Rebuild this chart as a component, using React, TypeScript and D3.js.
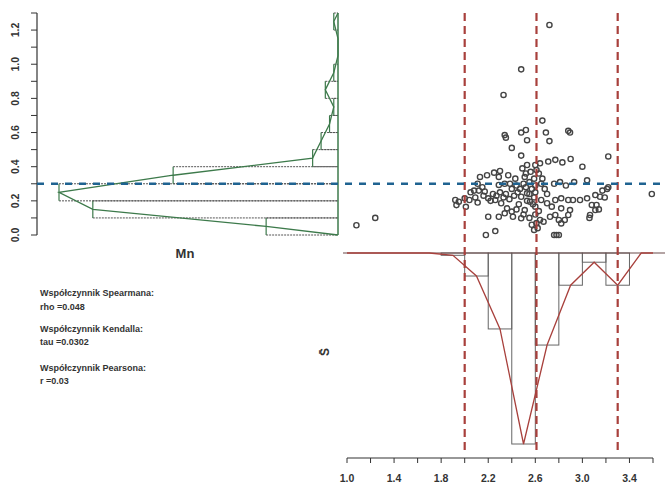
import React from 'react';
import * as d3 from 'd3';

// ---- data ----
const mnTicks = [0.0, 0.2, 0.4, 0.6, 0.8, 1.0, 1.2];
const mnMinorTicks = [0.0, 0.1, 0.2, 0.3, 0.4, 0.5, 0.6, 0.7, 0.8, 0.9, 1.0, 1.1, 1.2, 1.3];
const sTickLabels = [1.0, 1.4, 1.8, 2.2, 2.6, 3.0, 3.4];
const sMinorTicks = [1.0, 1.2, 1.4, 1.6, 1.8, 2.0, 2.2, 2.4, 2.6, 2.8, 3.0, 3.2, 3.4, 3.6];

// Mn histogram (bin width 0.1)
const mnBinStarts = [0.0, 0.1, 0.2, 0.3, 0.4, 0.5, 0.6, 0.7, 0.8, 0.9, 1.0, 1.1, 1.2];
const mnCounts = [17, 58, 66, 39, 6, 4, 2, 1, 3, 1, 0, 0, 1];

// S histogram (bin width 0.2)
const sBinStarts = [1.0, 1.2, 1.4, 1.6, 1.8, 2.0, 2.2, 2.4, 2.6, 2.8, 3.0, 3.2, 3.4];
const sCounts = [0, 0, 0, 0, 1, 10, 33, 83, 40, 14, 4, 14, 0];

// reference lines
const sVLines = [2.0, 2.61, 3.3];
const mnHLine = 0.3;

// scatter points [S, Mn]
const points: [number, number][] = [
  [2.72, 1.23], [2.48, 0.97], [2.33, 0.82], [2.66, 0.67], [2.69, 0.6], [2.72, 0.55],
  [2.88, 0.61], [2.895, 0.6], [2.52, 0.615], [2.48, 0.6], [2.53, 0.555], [2.34, 0.585],
  [2.35, 0.57], [2.4, 0.51], [2.48, 0.465], [1.08, 0.057], [1.24, 0.1], [3.59, 0.24],
  [2.64, 0.42], [2.71, 0.43], [2.77, 0.44], [2.83, 0.425], [2.9, 0.445], [3.0, 0.4], [3.22, 0.46],
  [2.49, 0.39], [2.52, 0.36], [2.51, 0.34], [2.13, 0.34], [2.19, 0.35], [2.25, 0.365],
  [2.3, 0.375], [2.29, 0.34], [2.11, 0.3], [2.15, 0.28], [2.08, 0.26], [2.12, 0.26], [2.17, 0.255],
  [2.29, 0.293], [2.34, 0.3], [2.385, 0.3], [2.44, 0.29], [2.76, 0.3], [2.81, 0.31], [2.86, 0.29],
  [2.93, 0.31], [3.04, 0.32], [3.17, 0.26], [3.21, 0.27], [3.22, 0.28],
  [1.92, 0.205], [1.95, 0.195], [1.93, 0.175], [2.0, 0.215], [2.01, 0.165], [2.04, 0.205], [2.11, 0.19],
  [2.2, 0.215], [2.26, 0.205], [2.31, 0.186], [2.36, 0.156], [2.4, 0.137],
  [2.48, 0.224], [2.53, 0.244], [2.555, 0.195], [2.6, 0.166], [2.65, 0.205], [2.7, 0.186],
  [2.74, 0.166], [2.77, 0.205], [2.82, 0.215], [2.88, 0.205], [2.92, 0.205], [2.98, 0.205],
  [3.04, 0.215], [3.11, 0.234], [3.15, 0.224], [3.19, 0.22], [3.12, 0.176], [3.14, 0.15],
  [2.82, 0.156], [2.895, 0.146], [2.88, 0.117], [2.85, 0.088], [3.08, 0.176], [3.065, 0.117],
  [3.11, 0.146], [3.06, 0.1],
  [2.2, 0.107], [2.29, 0.107], [2.34, 0.127], [2.41, 0.107], [2.48, 0.098], [2.51, 0.146],
  [2.64, 0.088], [2.67, 0.078], [2.725, 0.107], [2.77, 0.117], [2.8, 0.088], [2.82, 0.068],
  [2.18, 0.0], [2.26, 0.023], [2.76, 0.0], [2.78, 0.0], [2.8, 0.0],
  [2.5, 0.3], [2.52, 0.28], [2.55, 0.31], [2.57, 0.27], [2.59, 0.33], [2.6, 0.29], [2.6, 0.25],
  [2.61, 0.38], [2.6, 0.41], [2.59, 0.22], [2.58, 0.18], [2.6, 0.12], [2.61, 0.07], [2.59, 0.03],
  [2.55, 0.24], [2.53, 0.2], [2.47, 0.27], [2.45, 0.25], [2.42, 0.23], [2.4, 0.27], [2.38, 0.21],
  [2.35, 0.24], [2.33, 0.22], [2.3, 0.25], [2.27, 0.23], [2.24, 0.24], [2.22, 0.2], [2.46, 0.18],
  [2.44, 0.15], [2.5, 0.12], [2.55, 0.1], [2.63, 0.14], [2.65, 0.3], [2.68, 0.27], [2.7, 0.24],
  [2.63, 0.36], [2.66, 0.33], [2.56, 0.37], [2.53, 0.41], [2.57, 0.06], [2.62, 0.04],
  [2.05, 0.25], [2.09, 0.22], [2.16, 0.23], [2.43, 0.33], [2.37, 0.35],
];

const textLines = [
  'Współczynnik Spearmana:', 'rho =0.048',
  'Współczynnik Kendalla:', 'tau =0.0302',
  'Współczynnik Pearsona:', 'r =0.03',
];
const textBaselines = [296, 310, 332, 345, 371, 384];

const FONT = '"Liberation Sans", Arial, sans-serif';
const GREEN = '#3d7a4b';
const RED = '#a8403c';
const BLUE = '#1f6391';

export default function App() {
  const W = 665, H = 488;
  const y = d3.scaleLinear().domain([0, 1.3]).range([235, 13]);
  const x = d3.scaleLinear().domain([1.0, 3.6]).range([347, 653]);
  const cx = d3.scaleLinear().domain([0, 66]).range([338, 59]);
  const cy = d3.scaleLinear().domain([0, 83]).range([253, 444]);
  const axisX = 37;
  const axisY = 458;

  const mnPoly: [number, number][] = [
    [cx(0), y(0)],
    ...mnBinStarts.map((b, i) => [cx(mnCounts[i]), y(b + 0.05)] as [number, number]),
    [cx(0), y(1.3)],
  ];
  const sPoly: [number, number][] = [
    [x(1.0), cy(0)],
    ...sBinStarts.map((b, i) => [x(b + 0.1), cy(sCounts[i])] as [number, number]),
    [x(3.6), cy(0)],
  ];
  const line = d3.line();

  return (
    <svg width={W} height={H} style={{ position: 'absolute', left: 0, top: 0, background: '#fff' }}
      fontFamily={FONT}>
      <rect x={0} y={0} width={W} height={H} fill="#fff" />

      {/* left y axis */}
      <line x1={axisX} x2={axisX} y1={y(0)} y2={y(1.3)} stroke="#333" strokeWidth={1.2} />
      {mnMinorTicks.map((t) => (
        <line key={'mt' + t} x1={axisX - 6} x2={axisX} y1={y(t)} y2={y(t)} stroke="#333" strokeWidth={1} />
      ))}
      {mnTicks.map((t) => (
        <text key={'ml' + t} transform={`translate(15,${y(t)}) rotate(-90)`} textAnchor="middle"
          dominantBaseline="central" fontSize={10.5} fontWeight="bold" fill="#333">{t.toFixed(1)}</text>
      ))}

      {/* Mn histogram (horizontal bars) */}
      {mnBinStarts.map((b, i) => mnCounts[i] > 0 && (
        <g key={'mb' + b}>
          <line x1={cx(mnCounts[i])} x2={cx(0)} y1={y(b)} y2={y(b)} stroke="#555" strokeWidth={1} strokeDasharray="2,1" />
          <line x1={cx(mnCounts[i])} x2={cx(0)} y1={y(b + 0.1)} y2={y(b + 0.1)} stroke="#555" strokeWidth={1} strokeDasharray="2,1" />
          <line x1={cx(mnCounts[i])} x2={cx(mnCounts[i])} y1={y(b)} y2={y(b + 0.1)} stroke={GREEN} strokeWidth={1.2} />
        </g>
      ))}
      <line x1={cx(0)} x2={cx(0)} y1={y(0)} y2={y(1.3)} stroke={GREEN} strokeWidth={1.5} />
      <path d={line(mnPoly) || ''} fill="none" stroke={GREEN} strokeWidth={1.3} />

      <text x={185} y={258} textAnchor="middle" fontSize={13} fontWeight="bold" fill="#333">Mn</text>

      {/* S histogram (downward bars) */}
      {sBinStarts.map((b, i) => sCounts[i] > 0 && (
        <rect key={'sb' + b} x={x(b)} width={x(b + 0.2) - x(b)} y={cy(0)} height={cy(sCounts[i]) - cy(0)}
          fill="none" stroke="#666" strokeWidth={1} />
      ))}
      <line x1={x(1.0) - 4} x2={W} y1={cy(0)} y2={cy(0)} stroke="#6a4a4a" strokeWidth={1.2} />
      <path d={line(sPoly) || ''} fill="none" stroke={RED} strokeWidth={1.3} />

      {/* bottom x axis */}
      <line x1={x(1.0)} x2={x(3.6)} y1={axisY} y2={axisY} stroke="#333" strokeWidth={1.2} />
      {sMinorTicks.map((t) => (
        <line key={'st' + t} x1={x(t)} x2={x(t)} y1={axisY} y2={axisY + 5} stroke="#333" strokeWidth={1} />
      ))}
      {sTickLabels.map((t) => (
        <text key={'sl' + t} x={x(t)} y={482} textAnchor="middle" fontSize={10.5} fontWeight="bold" fill="#333">{t.toFixed(1)}</text>
      ))}

      {/* scatter */}
      {points.map(([s, m], i) => (
        <circle key={'p' + i} cx={x(s)} cy={y(m)} r={2.6} fill="none" stroke="#444" strokeWidth={1.4} />
      ))}

      {/* reference lines */}
      {sVLines.map((v) => (
        <line key={'v' + v} x1={x(v)} x2={x(v)} y1={13} y2={455} stroke={RED} strokeWidth={2.2} strokeDasharray="8,5" />
      ))}
      <line x1={axisX} x2={W} y1={y(mnHLine)} y2={y(mnHLine)} stroke={BLUE} strokeWidth={2.5} strokeDasharray="7,7" />

      {/* coefficient text */}
      {textLines.map((t, i) => (
        <text key={'t' + i} x={40} y={textBaselines[i]} fontSize={9} fontWeight="bold" fill="#333">{t}</text>
      ))}

      {/* S-bar axis label */}
      <text transform="translate(325,352) rotate(-90)" textAnchor="middle" dominantBaseline="central"
        fontSize={12} fontWeight="bold" fill="#333">{'S\u0304'}</text>
    </svg>
  );
}
